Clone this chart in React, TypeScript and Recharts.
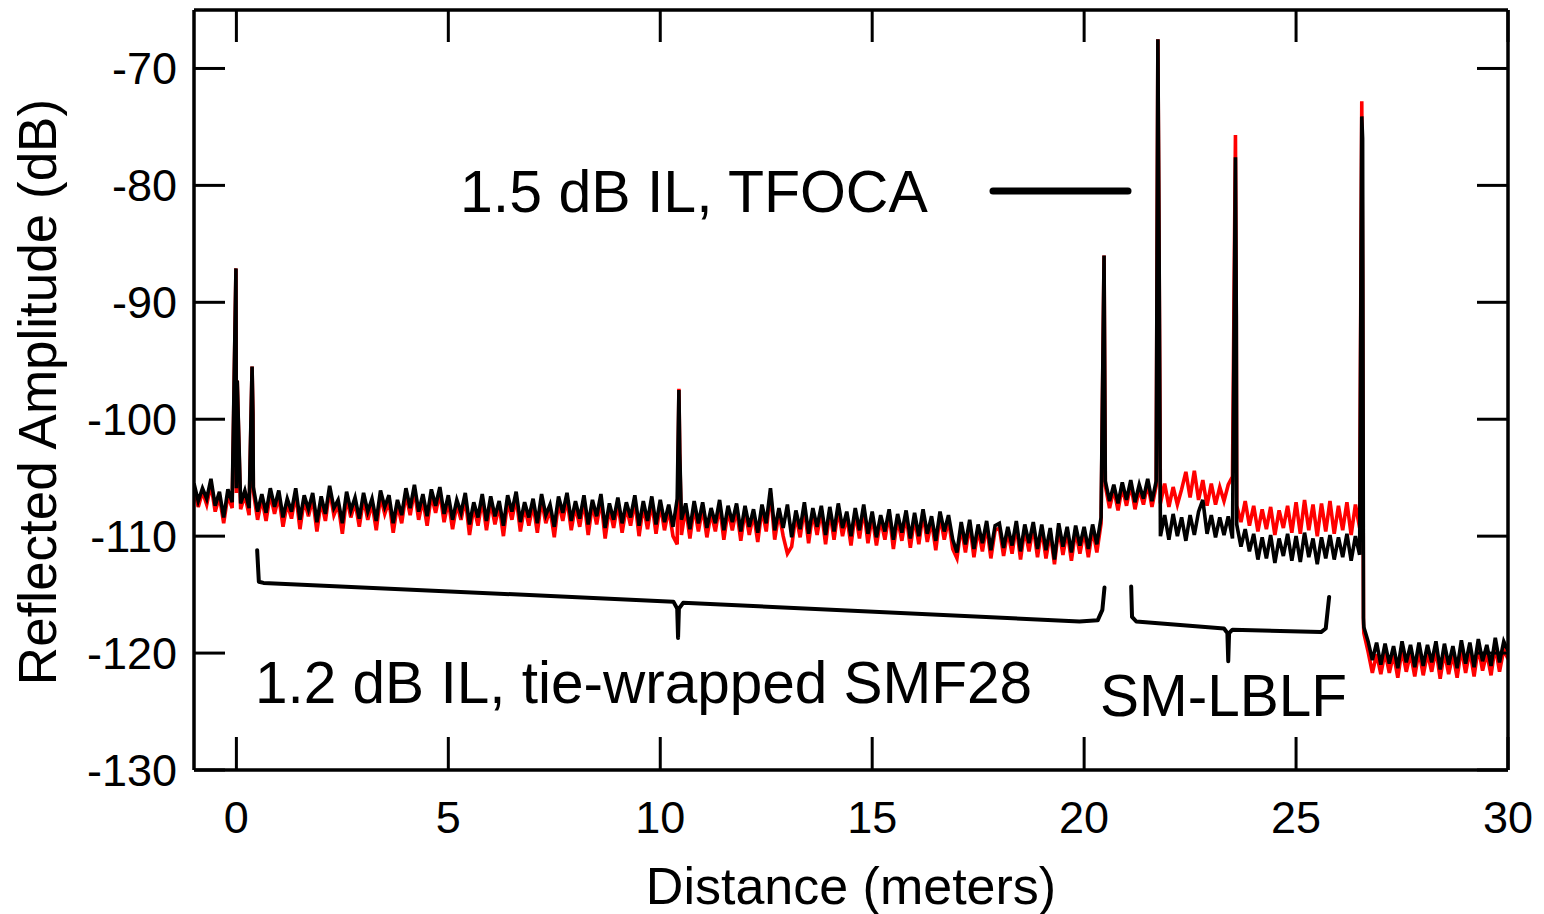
import React from "react";
import { ComposedChart, Line, XAxis, YAxis, Customized } from "recharts";

// ---- data (dB), sampled every 0.1 m starting at -1.0 m ----
const GRID_START = -1.0;
const GRID_STEP = 0.1;

const blackTrace = [
  -105.5,-107.0,-105.9,-106.8,-105.1,-107.4,-106.2,-108.4,-106.0,-107.1,
  -105.9,-107.2,-106.1,-107.6,-105.8,-107.9,-106.4,-108.0,-105.9,-107.5,
  -106.1,-108.4,-106.8,-107.9,-105.9,-108.6,-106.5,-107.7,-106.3,-108.8,
  -106.6,-108.1,-105.7,-107.6,-106.9,-108.9,-106.2,-107.8,-106.7,-108.5,
  -106.3,-107.9,-106.8,-108.7,-106.1,-107.5,-106.5,-108.9,-106.9,-108.2,
  -105.9,-107.6,-105.6,-107.9,-106.4,-108.3,-106.0,-107.4,-105.8,-108.1,
  -106.5,-108.6,-106.9,-108.0,-106.3,-109.0,-107.1,-108.4,-106.4,-108.7,
  -106.6,-108.3,-107.0,-109.1,-106.5,-107.9,-106.2,-108.8,-107.1,-108.4,
  -106.8,-108.9,-106.4,-108.2,-107.3,-109.2,-106.6,-108.0,-106.3,-108.7,
  -107.0,-108.5,-106.5,-109.0,-106.9,-108.3,-106.4,-109.3,-107.2,-108.6,
  -106.7,-108.9,-107.1,-108.4,-106.5,-109.1,-107.0,-108.7,-106.6,-109.0,
  -106.9,-108.8,-107.3,-109.2,-106.8,-108.6,-107.2,-109.4,-107.0,-108.9,
  -107.1,-109.3,-107.6,-108.9,-106.9,-109.5,-107.4,-108.8,-107.2,-109.6,
  -107.4,-109.2,-107.7,-109.7,-107.3,-108.9,-105.9,-109.5,-107.6,-109.3,
  -107.3,-110.1,-107.8,-109.4,-107.1,-109.8,-107.6,-109.2,-107.4,-109.9,
  -107.5,-109.6,-107.2,-109.3,-107.9,-110.0,-107.6,-109.5,-107.3,-109.8,
  -107.9,-110.1,-108.2,-109.6,-107.7,-110.3,-108.1,-109.7,-107.8,-110.2,
  -108.0,-110.0,-107.7,-109.8,-108.3,-110.4,-107.9,-109.6,-108.2,-110.3,
  -111.4,-108.8,-110.7,-108.6,-111.1,-109.0,-110.6,-108.7,-111.2,-109.1,
  -108.9,-111.0,-109.2,-110.8,-108.7,-111.3,-109.0,-110.6,-108.8,-111.1,
  -109.0,-111.2,-109.3,-112.0,-108.9,-110.9,-109.2,-111.4,-109.1,-110.8,
  -109.2,-111.1,-109.0,-110.7,-108.4,-105.3,-107.0,-105.6,-107.2,-105.4,
  -106.9,-105.2,-107.1,-105.6,-106.8,-105.1,-107.0,-105.3,-110.0,-108.2,
  -110.3,-108.1,-110.0,-108.4,-110.4,-108.2,-109.9,-107.9,-106.9,-109.8,
  -108.2,-110.1,-108.4,-109.9,-108.3,-110.2,-109.0,-110.9,-109.4,-111.3,
  -109.8,-112.0,-110.1,-111.9,-109.9,-112.3,-110.2,-111.7,-109.8,-112.1,
  -110.0,-112.2,-109.7,-111.8,-110.2,-112.4,-110.1,-111.9,-109.9,-112.0,
  -110.1,-111.8,-109.8,-112.1,-110.0,-111.6,-117.8,-119.0,-120.6,-119.1,
  -121.0,-119.2,-120.9,-119.4,-121.3,-119.0,-120.8,-119.3,-121.2,-119.1,
  -121.1,-119.3,-120.8,-119.0,-121.4,-119.2,-121.0,-119.4,-121.3,-118.9,
  -120.9,-119.1,-121.2,-118.8,-120.7,-119.3,-121.1,-118.7,-120.8,-119.0,
  -119.8,
];

const redTrace = [
  -105.9,-107.5,-106.2,-107.3,-105.6,-107.9,-106.6,-108.9,-106.5,-107.6,
  -106.3,-107.7,-106.5,-108.2,-106.2,-108.6,-106.8,-108.7,-106.4,-108.1,
  -106.6,-109.2,-107.2,-108.5,-106.4,-109.4,-106.9,-108.3,-106.8,-109.6,
  -107.0,-108.7,-106.1,-108.2,-107.3,-109.8,-106.7,-108.4,-107.1,-109.2,
  -106.8,-108.6,-107.2,-109.5,-106.6,-108.1,-107.0,-109.7,-107.3,-108.9,
  -106.4,-108.2,-106.1,-108.6,-106.9,-109.1,-106.5,-108.0,-106.3,-108.8,
  -107.0,-109.4,-107.3,-108.6,-106.8,-109.9,-107.5,-109.1,-106.9,-109.5,
  -107.1,-109.0,-107.4,-110.0,-107.0,-108.6,-106.7,-109.6,-107.5,-109.1,
  -107.3,-109.7,-106.9,-108.9,-107.7,-110.1,-107.1,-108.7,-106.8,-109.5,
  -107.4,-109.2,-107.0,-109.9,-107.3,-109.0,-106.9,-110.2,-107.6,-109.3,
  -107.2,-109.7,-107.5,-109.1,-107.0,-110.0,-107.4,-109.4,-107.1,-109.8,
  -107.3,-109.5,-107.7,-110.0,-110.7,-109.9,-107.6,-110.2,-107.5,-109.6,
  -107.6,-110.1,-108.0,-109.6,-107.4,-110.3,-107.8,-109.5,-107.7,-110.4,
  -107.8,-109.9,-108.1,-110.5,-107.7,-109.6,-106.3,-110.3,-108.0,-110.0,
  -111.5,-110.9,-108.2,-110.1,-107.6,-110.6,-108.0,-109.9,-107.8,-110.7,
  -107.9,-110.3,-107.7,-110.0,-108.3,-110.8,-108.0,-110.2,-107.7,-110.6,
  -108.3,-110.8,-108.6,-110.3,-108.1,-111.1,-108.5,-110.4,-108.2,-111.0,
  -108.4,-110.7,-108.1,-110.5,-108.7,-111.2,-108.3,-110.3,-108.6,-111.1,
  -111.9,-109.2,-111.4,-109.0,-111.8,-109.4,-111.3,-109.1,-111.9,-109.5,
  -109.3,-111.7,-109.6,-111.5,-109.1,-112.0,-109.4,-111.3,-109.2,-111.8,
  -109.4,-111.9,-109.7,-112.4,-109.3,-111.6,-109.6,-112.1,-109.5,-111.5,
  -109.6,-111.8,-109.4,-111.4,-108.9,-105.7,-107.6,-106.0,-107.8,-105.8,
  -107.4,-105.6,-107.7,-106.0,-107.3,-105.5,-107.5,-105.7,-107.2,-105.5,
  -107.5,-105.8,-107.3,-106.0,-104.5,-106.7,-104.4,-106.9,-105.2,-107.4,
  -105.5,-107.3,-105.8,-107.0,-105.6,-104.9,-107.4,-108.8,-107.0,-109.1,
  -107.4,-109.6,-107.7,-109.4,-107.5,-109.9,-107.8,-109.3,-107.4,-109.7,
  -107.1,-109.8,-106.9,-109.5,-107.3,-110.0,-107.2,-109.6,-107.0,-109.8,
  -107.4,-109.5,-107.1,-109.9,-107.3,-109.3,-118.3,-119.9,-121.7,-120.1,
  -121.8,-119.9,-121.7,-120.1,-122.1,-119.7,-121.6,-120.0,-122.0,-119.8,
  -121.9,-120.0,-121.6,-119.7,-122.2,-119.9,-121.8,-120.1,-122.1,-119.6,
  -121.7,-119.8,-122.0,-119.5,-121.5,-120.0,-121.9,-119.4,-121.6,-119.7,
  -120.5,
];

// reflection peaks (distance in m, amplitude in dB)
const peakX = [-0.01, 0.02, 0.37, 0.39, 10.44, 10.46, 20.47, 21.74, 21.77, 23.57, 23.59, 26.55, 26.57, 26.59];
const peakBlack = [-87.1, -96.7, -95.5, -99.5, -97.5, -102.9, -86.0, -67.5, -86.6, -77.6, -91.0, -74.1, -76.0, -117.0];
const peakRed = [-87.1, -96.7, -95.5, -99.5, -97.4, -102.9, -86.0, -67.5, -86.6, -75.7, -91.8, -72.8, -88.0, -117.5];

// annotation braces (distance, dB)
const braceSmfX = [0.49, 0.53, 0.64, 10.31, 10.40, 10.42, 10.44, 10.54, 19.89, 20.32, 20.43, 20.48];
const braceSmfV = [-111.2, -113.9, -114.0, -115.6, -116.2, -118.7, -116.2, -115.7, -117.3, -117.2, -116.3, -114.4];
const braceLblfX = [21.11, 21.13, 21.23, 23.30, 23.38, 23.40, 23.42, 23.50, 25.59, 25.70, 25.78];
const braceLblfV = [-114.3, -116.9, -117.3, -117.9, -118.3, -120.7, -118.3, -118.0, -118.2, -117.9, -115.2];

const xTicks = [0, 5, 10, 15, 20, 25, 30];
const yTicks = [-130, -120, -110, -100, -90, -80, -70];

const legendLabel = "1.5 dB IL, TFOCA";
const smfLabel = "1.2 dB IL, tie-wrapped SMF28";
const lblfLabel = "SM-LBLF";
const xTitle = "Distance (meters)";
const yTitle = "Reflected Amplitude (dB)";

// ---- tables built from the arrays ----
const gridRows = blackTrace.map((b, i) => ({
  x: Math.round((GRID_START + i * GRID_STEP) * 100) / 100,
  black: b,
  red: redTrace[i],
}));
const peakRows = peakX.map((x, i) => ({ x, black: peakBlack[i], red: peakRed[i] }));
const table = [...gridRows, ...peakRows].sort((a, b) => a.x - b.x);
const braceSmf = braceSmfX.map((x, i) => ({ x, v: braceSmfV[i] }));
const braceLblf = braceLblfX.map((x, i) => ({ x, v: braceLblfV[i] }));

const FONT = "'Liberation Sans', Arial, Helvetica, sans-serif";
const TICK_FS = 45;
const W = 1544;
const H = 914;

const BottomTick = (p: any) => (
  <g>
    <line x1={p.x} y1={p.y} x2={p.x} y2={p.y - 33} stroke="#000" strokeWidth={3} />
    <text x={p.x} y={p.y + 63} textAnchor="middle" fontFamily={FONT} fontSize={TICK_FS} fill="#000">
      {p.payload.value}
    </text>
  </g>
);
const TopTick = (p: any) => (
  <line x1={p.x} y1={p.y} x2={p.x} y2={p.y + 32} stroke="#000" strokeWidth={3} />
);
const LeftTick = (p: any) => (
  <g>
    <line x1={p.x} y1={p.y} x2={p.x + 31} y2={p.y} stroke="#000" strokeWidth={3} />
    <text x={p.x - 17} y={p.y + 16} textAnchor="end" fontFamily={FONT} fontSize={TICK_FS} fill="#000">
      {p.payload.value}
    </text>
  </g>
);
const RightTick = (p: any) => (
  <line x1={p.x} y1={p.y} x2={p.x - 31} y2={p.y} stroke="#000" strokeWidth={3} />
);

const Annotations = () => (
  <g fontFamily={FONT} fill="#000">
    <text x={460} y={212} fontSize={59}>{legendLabel}</text>
    <line x1={993} y1={191} x2={1128} y2={191} stroke="#000" strokeWidth={7} strokeLinecap="round" />
    <text x={255} y={703} fontSize={58.5}>{smfLabel}</text>
    <text x={1100} y={716} fontSize={58.5}>{lblfLabel}</text>
    <text x={851} y={904} fontSize={52} textAnchor="middle">{xTitle}</text>
    <text x={0} y={0} fontSize={53} textAnchor="middle" transform="translate(56,392) rotate(-90)">
      {yTitle}
    </text>
  </g>
);

const axisLineStyle = { stroke: "#000", strokeWidth: 3.5 };

export default function App() {
  return (
    <div style={{ width: W, height: H, background: "#fff" }}>
      <style>{`body{margin:0;background:#fff;overflow:hidden}`}</style>
      <ComposedChart
        width={W}
        height={H}
        data={table}
        margin={{ top: 9, right: 35, bottom: 143, left: 193 }}
      >
        <XAxis
          xAxisId="bottom"
          dataKey="x"
          type="number"
          domain={[-1, 30]}
          ticks={xTicks}
          interval={0}
          height={1}
          tickSize={0}
          tickMargin={0}
          tickLine={false}
          tick={BottomTick}
          axisLine={axisLineStyle}
          allowDataOverflow
          orientation="bottom"
        />
        <XAxis
          xAxisId="top"
          dataKey="x"
          type="number"
          domain={[-1, 30]}
          ticks={xTicks}
          interval={0}
          height={1}
          tickSize={0}
          tickMargin={0}
          tickLine={false}
          tick={TopTick}
          axisLine={axisLineStyle}
          allowDataOverflow
          orientation="top"
        />
        <YAxis
          yAxisId="left"
          type="number"
          domain={[-130, -65]}
          ticks={yTicks}
          interval={0}
          width={1}
          tickSize={0}
          tickMargin={0}
          tickLine={false}
          tick={LeftTick}
          axisLine={axisLineStyle}
          allowDataOverflow
          orientation="left"
        />
        <YAxis
          yAxisId="right"
          type="number"
          domain={[-130, -65]}
          ticks={yTicks}
          interval={0}
          width={1}
          tickSize={0}
          tickMargin={0}
          tickLine={false}
          tick={RightTick}
          axisLine={axisLineStyle}
          allowDataOverflow
          orientation="right"
        />
        <Line
          xAxisId="bottom"
          yAxisId="left"
          dataKey="red"
          type="linear"
          stroke="#ff0000"
          strokeWidth={3.6}
          dot={false}
          isAnimationActive={false}
        />
        <Line
          xAxisId="bottom"
          yAxisId="left"
          dataKey="black"
          type="linear"
          stroke="#000000"
          strokeWidth={3.6}
          dot={false}
          isAnimationActive={false}
        />
        <Line
          xAxisId="top"
          yAxisId="right"
          data={braceSmf}
          dataKey="v"
          type="linear"
          stroke="#000"
          strokeWidth={4}
          strokeLinejoin="round"
          strokeLinecap="round"
          dot={false}
          isAnimationActive={false}
        />
        <Line
          xAxisId="top"
          yAxisId="right"
          data={braceLblf}
          dataKey="v"
          type="linear"
          stroke="#000"
          strokeWidth={4}
          strokeLinejoin="round"
          strokeLinecap="round"
          dot={false}
          isAnimationActive={false}
        />
        <Customized component={Annotations} />
      </ComposedChart>
    </div>
  );
}
